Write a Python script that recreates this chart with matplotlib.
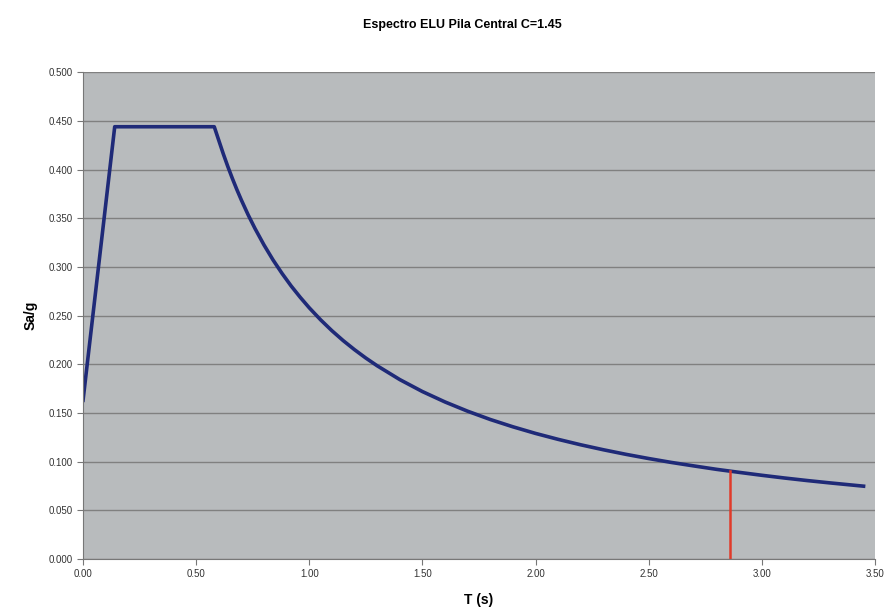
import matplotlib.pyplot as plt

plt.rcParams["font.family"] = ["Liberation Sans", "DejaVu Sans"]

# spectrum
periods = [0.00, 0.14, 0.58, 0.60, 0.62, 0.64, 0.66, 0.68, 0.70, 0.73, 0.76,
           0.80, 0.84, 0.88, 0.92, 0.96, 1.00, 1.05, 1.10, 1.15, 1.20, 1.25,
           1.30, 1.40, 1.50, 1.60, 1.70, 1.80, 1.90, 2.00, 2.10, 2.20, 2.30,
           2.40, 2.50, 2.60, 2.70, 2.80, 2.90, 3.00, 3.10, 3.20, 3.30, 3.45]
sa_g = [0.1630, 0.4440, 0.4440, 0.4300, 0.4161, 0.4031, 0.3909, 0.3794,
        0.3686, 0.3534, 0.3395, 0.3225, 0.3071, 0.2932, 0.2804, 0.2688,
        0.2580, 0.2457, 0.2345, 0.2243, 0.2150, 0.2064, 0.1985, 0.1843,
        0.1720, 0.1613, 0.1518, 0.1433, 0.1358, 0.1290, 0.1229, 0.1173,
        0.1122, 0.1075, 0.1032, 0.0992, 0.0956, 0.0921, 0.0890, 0.0860,
        0.0832, 0.0806, 0.0782, 0.0748]

# marker for the structure period
t_mark = [2.86, 2.86]
sa_mark = [0.000, 0.090]

x_ticks = [0.0, 0.5, 1.0, 1.5, 2.0, 2.5, 3.0, 3.5]
y_ticks = [0.0, 0.05, 0.10, 0.15, 0.20, 0.25, 0.30, 0.35, 0.40, 0.45, 0.50]

fig = plt.figure(figsize=(8.9, 6.12), dpi=100)
ax = fig.add_axes([0.0933, 0.0866, 0.8897, 0.7954])
ax.set_facecolor("#b8bbbd")

ax.plot(periods, sa_g, color="#1f2a78", lw=2.6, solid_joinstyle="round")
ax.plot(t_mark, sa_mark, color="#e03a2a", lw=1.8)

ax.set_xlim(0, 3.5)
ax.set_ylim(0, 0.5)
ax.set_xticks(x_ticks)
ax.set_yticks(y_ticks)
ax.set_xticklabels([f"{v:.2f}" for v in x_ticks], fontsize=7, color="#333333")
ax.set_yticklabels([f"{v:.3f}" for v in y_ticks], fontsize=7, color="#333333")
ax.grid(axis="y", color="#808080", lw=1.0)
ax.set_axisbelow(True)

for side in ["top", "right"]:
    ax.spines[side].set_visible(False)
ax.spines["left"].set_color("#777777")
ax.spines["bottom"].set_color("#777777")
ax.tick_params(direction="out", length=4, color="#777777")

ax.set_xlabel("T (s)", fontsize=10, fontweight="bold", labelpad=10)
ax.set_ylabel("Sa/g", fontsize=10, fontweight="bold", labelpad=8)
fig.text(0.52, 0.955, "Espectro ELU Pila Central C=1.45", ha="center",
         fontsize=9, fontweight="bold")

plt.savefig("out.png", dpi=100)
plt.close()
